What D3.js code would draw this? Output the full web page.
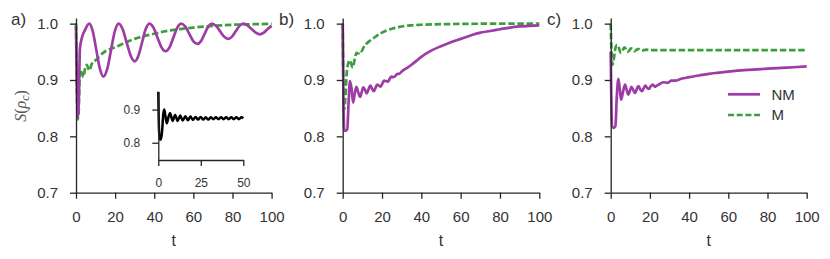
<!DOCTYPE html>
<html><head><meta charset="utf-8">
<script src="https://cdn.jsdelivr.net/npm/d3@7"></script>
<style>
body{margin:0;background:#fff;}
svg{display:block;}
</style></head>
<body>
<svg id="chart" width="830" height="259"></svg>
<script>
// ---------------- data ----------------
const yTicks = [0.7, 0.8, 0.9, 1.0];
const xTicks = [0, 20, 40, 60, 80, 100];
const insetYTicks = [0.8, 0.9];
const insetXTicks = [0, 25, 50];
const panelLabels = ["a)", "b)", "c)"];
const seriesNames = ["NM", "M"];

// Panel a
const tA_NM = [0,0.4,0.9,1.4,2,3,4.5,6.8,8.6,10.4,12.2,14,16,17.9,19.8,21.8,23.85,25.9,27.95,30,31.9,33.75,35.6,37.5,39.6,41.65,43.7,45.8,47.8,49.8,51.8,53.8,55.9,57.9,59.95,62,63.9,65.75,67.6,69.5,71.6,73.65,75.7,77.8,79.75,81.65,83.6,85.5,87.6,89.75,91.9,94,96,98,100];
const vA_NM = [0.995,0.90,0.835,0.86,0.955,0.975,0.988,1.0,0.986,0.953,0.92,0.906,0.92,0.953,0.986,1.0,0.990,0.9665,0.943,0.933,0.943,0.9665,0.990,1.0,0.993,0.9755,0.958,0.951,0.958,0.9755,0.993,1.0,0.9947,0.982,0.969,0.964,0.969,0.982,0.9947,1.0,0.996,0.9865,0.977,0.973,0.977,0.9865,0.996,1.0,0.997,0.9905,0.984,0.981,0.984,0.9905,0.996];
const tA_M = [0,0.4,0.8,1.3,2,3,3.8,4.6,5.5,6.8,8,10,12.5,15,17.5,20,25,30,35,40,45,50,55,60,70,80,90,100];
const vA_M = [1.0,0.9,0.83,0.84,0.918,0.912,0.905,0.92,0.927,0.917,0.928,0.935,0.944,0.951,0.955,0.958,0.966,0.973,0.978,0.982,0.986,0.989,0.991,0.993,0.996,0.998,0.999,0.9995];

// Panel b
const tB_NM = [0,0.4,0.8,1.5,2.3,3,3.7,4.5,5.3,6.1,6.9,7.9,8.9,9.7,10.5,11.4,12.2,13.1,14,14.9,15.8,16.7,17.5,18.4,19.3,20.2,21,22,23,23.9,24.8,25.8,26.8,27.8,28.8,30,32.5,35,37.5,40,45,50,55,60,65,70,75,80,85,90,95,100];
const vB_NM = [1.0,0.86,0.81,0.81,0.812,0.86,0.898,0.885,0.86,0.875,0.888,0.878,0.870,0.879,0.887,0.882,0.876,0.883,0.890,0.885,0.880,0.886,0.892,0.890,0.888,0.894,0.899,0.898,0.897,0.902,0.906,0.905,0.907,0.911,0.911,0.915,0.921,0.927,0.934,0.941,0.952,0.960,0.967,0.973,0.979,0.984,0.987,0.990,0.993,0.995,0.996,0.997];
const tB_M = [0,0.3,0.7,1.2,2,3,3.6,4.4,5.1,6,7.1,8,8.8,9.6,10.5,12,14,16,18,20,22.5,25,27.5,30,35,40,50,60,80,100];
const vB_M = [1.0,0.9,0.847,0.86,0.91,0.932,0.935,0.928,0.922,0.935,0.948,0.947,0.952,0.951,0.957,0.964,0.970,0.975,0.980,0.984,0.988,0.991,0.993,0.995,0.997,0.998,0.999,0.9995,1.0,1.0];

// Panel c
const tC_NM = [0,0.3,0.7,1.5,2.4,3.1,3.9,4.6,5.3,6.3,7.3,8.2,9.0,9.8,10.6,11.5,12.4,13.2,14.1,15,15.9,16.8,17.7,18.6,19.5,20.5,21.5,22.5,23.5,25,27,29,31,33,35,37,40,45,50,55,60,70,80,90,100];
const vC_NM = [0.95,0.87,0.818,0.815,0.818,0.87,0.902,0.885,0.865,0.879,0.892,0.882,0.874,0.881,0.888,0.882,0.877,0.883,0.889,0.884,0.880,0.885,0.890,0.886,0.884,0.889,0.892,0.888,0.890,0.893,0.896,0.895,0.899,0.899,0.901,0.903,0.905,0.908,0.911,0.913,0.915,0.918,0.920,0.922,0.924];
const tC_M = [0,0.4,0.9,1.5,2.3,3.2,3.9,4.6,5.3,6.1,6.9,7.7,8.5,9.4,10.3,11.2,12.1,13,14,15,16,17,18,20,25,30,40,50,60,70,80,90,100];
const vC_M = [1.0,0.95,0.927,0.935,0.955,0.962,0.96,0.952,0.948,0.953,0.958,0.955,0.950,0.952,0.956,0.955,0.951,0.953,0.955,0.954,0.952,0.953,0.954,0.953,0.953,0.953,0.953,0.953,0.953,0.953,0.953,0.953,0.953];

// Inset (panel a)
const tInset = [0,0.4,0.9,1.6,2.3,2.9,3.5,4.2,5,6,6.9,7.6,8.4,9.9,11.4,12.9,14.4,15.9,17.4,18.9,20.4,21.9,23.4,24.9,26.4,27.9,29.4,30.9,32.4,33.9,35.4,36.9,38.4,39.9,41.4,42.9,44.4,45.9,47.4,48.9,50];
const vInset = [0.954,0.84,0.81,0.81,0.84,0.885,0.9,0.88,0.859,0.878,0.89,0.879,0.866,0.884,0.866,0.882,0.867,0.880,0.868,0.879,0.869,0.878,0.870,0.878,0.870,0.877,0.870,0.877,0.871,0.877,0.871,0.877,0.871,0.877,0.871,0.877,0.871,0.877,0.871,0.877,0.874];

// ---------------- drawing ----------------
const svg = d3.select("#chart");
const FONT = "'Liberation Sans', Arial, sans-serif";
const C_NM = "#9e3ca6", C_M = "#3d9e3d", AX = "#262626", TXT = "#333";

const panels = [
  {x0:76, x1:271.6, nm:[tA_NM,vA_NM], m:[tA_M,vA_M]},
  {x0:342.7, x1:539.3, nm:[tB_NM,vB_NM], m:[tB_M,vB_M]},
  {x0:610.7, x1:806.7, nm:[tC_NM,vC_NM], m:[tC_M,vC_M]}
];
const labelX = [11, 279, 547];

function styleAxis(g, fs){
  g.select(".domain").attr("stroke", AX).attr("stroke-width", 1.3);
  g.selectAll(".tick line").attr("stroke", AX).attr("stroke-width", 1.3);
  g.selectAll(".tick text").attr("fill", TXT).style("font-family", FONT).style("font-size", fs+"px");
}
function zip(t, v){ return t.map((d,i)=>[d, v[i]]); }

panels.forEach((p, i) => {
  const x = d3.scaleLinear().domain([0,100]).range([p.x0, p.x1]);
  const y = d3.scaleLinear().domain([0.7,1.01]).range([192.7, 18]);
  const line = d3.line().x(d=>x(d[0])).y(d=>y(d[1])).curve(d3.curveMonotoneX);

  svg.append("path").datum(zip(p.m[0], p.m[1])).attr("d", line)
    .attr("fill","none").attr("stroke",C_M).attr("stroke-width",2.7)
    .attr("stroke-dasharray","6.5,2.7");
  svg.append("path").datum(zip(p.nm[0], p.nm[1])).attr("d", line)
    .attr("fill","none").attr("stroke",C_NM).attr("stroke-width",2.7)
    .attr("stroke-linejoin","round");

  const gy = svg.append("g").attr("transform",`translate(${p.x0},0)`)
    .call(d3.axisLeft(y).tickValues(yTicks).tickFormat(d3.format(".1f")).tickSize(6).tickPadding(12).tickSizeOuter(0));
  styleAxis(gy, 15);
  const gx = svg.append("g").attr("transform",`translate(0,192.7)`)
    .call(d3.axisBottom(x).tickValues(xTicks).tickFormat(d3.format("d")).tickSize(6).tickPadding(13).tickSizeOuter(0));
  styleAxis(gx, 15);

  svg.append("text").attr("x",(p.x0+p.x1)/2).attr("y",246).attr("text-anchor","middle")
    .attr("fill",TXT).style("font-family",FONT).style("font-size","16px").text("t");
  svg.append("text").attr("x",labelX[i]).attr("y",25).attr("fill",TXT)
    .style("font-family",FONT).style("font-size","17px").text(panelLabels[i]);
});

// y label
const yl = svg.append("text").attr("transform","translate(26,106) rotate(-90)")
  .attr("text-anchor","middle").attr("fill","#555")
  .style("font-family","'Liberation Serif','DejaVu Serif',serif").style("font-size","16px");
yl.append("tspan").style("font-style","italic").text("S");
yl.append("tspan").text("(");
yl.append("tspan").style("font-style","italic").text("ρ");
yl.append("tspan").style("font-style","italic").style("font-size","12px").attr("dy",3).text("c");
yl.append("tspan").attr("dy",-3).text(")");

// legend (panel c)
const legY = [94.3, 115];
svg.append("line").attr("x1",728).attr("x2",760).attr("y1",legY[0]).attr("y2",legY[0])
  .attr("stroke",C_NM).attr("stroke-width",2.7);
svg.append("line").attr("x1",728).attr("x2",760).attr("y1",legY[1]).attr("y2",legY[1])
  .attr("stroke",C_M).attr("stroke-width",2.7).attr("stroke-dasharray","6,2.7");
seriesNames.forEach((n,i)=>{
  svg.append("text").attr("x",771.5).attr("y",legY[i]+5.3).attr("fill",TXT)
    .style("font-family",FONT).style("font-size","15px").text(n);
});

// inset
const xi = d3.scaleLinear().domain([0,50]).range([158.3, 243.3]);
const yi = d3.scaleLinear().domain([0.748,0.954]).range([160, 91.7]);
const li = d3.line().x(d=>xi(d[0])).y(d=>yi(d[1])).curve(d3.curveMonotoneX);
svg.append("path").datum(zip(tInset, vInset)).attr("d", li)
  .attr("fill","none").attr("stroke","#000").attr("stroke-width",2.5).attr("stroke-linejoin","round");
const giy = svg.append("g").attr("transform","translate(158.3,0)")
  .call(d3.axisLeft(yi).tickValues(insetYTicks).tickFormat(d3.format(".1f")).tickSize(6).tickPadding(12).tickSizeOuter(0));
styleAxis(giy, 12);
const gix = svg.append("g").attr("transform","translate(0,160)")
  .call(d3.axisBottom(xi).tickValues(insetXTicks).tickFormat(d3.format("d")).tickSize(6).tickPadding(12).tickSizeOuter(0));
styleAxis(gix, 12);
</script>
</body></html>
